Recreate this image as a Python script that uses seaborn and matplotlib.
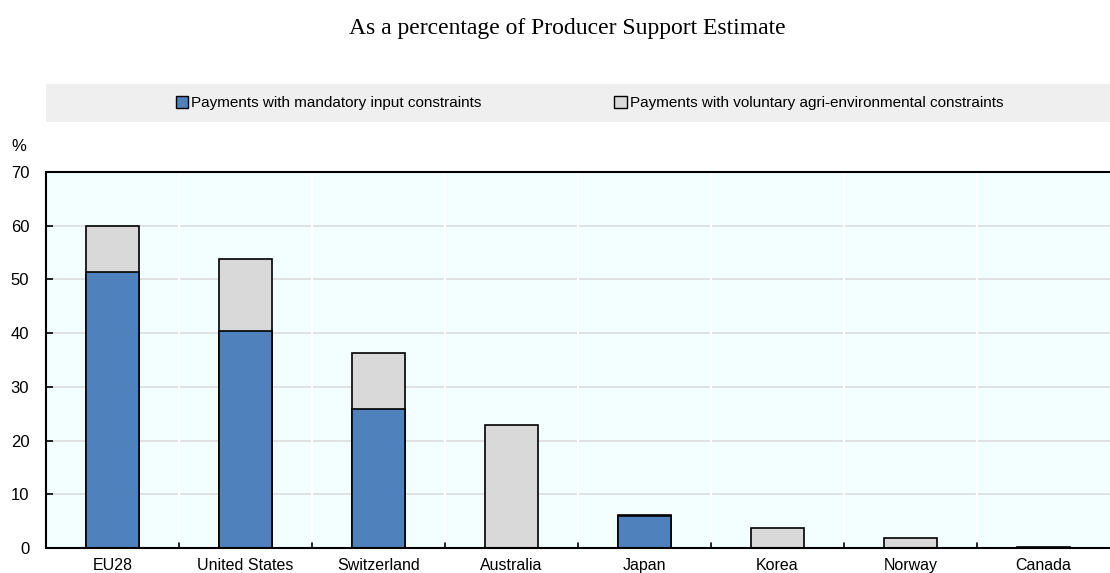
import numpy as np
import pandas as pd
import seaborn as sns
import matplotlib.pyplot as plt
from matplotlib.patches import Rectangle, Patch

countries = ['EU28', 'United States', 'Switzerland', 'Australia', 'Japan', 'Korea', 'Norway', 'Canada']
mandatory = [51.3, 40.4, 25.8, 0.0, 5.9, 0.0, 0.0, 0.0]
voluntary = [8.6, 13.4, 10.5, 22.9, 0.2, 3.8, 1.9, 0.1]

blue = '#4F81BD'
grey = '#D9D9D9'

df = pd.DataFrame({'country': countries, 'mandatory': mandatory, 'voluntary': voluntary})
df['total'] = df['mandatory'] + df['voluntary']

sns.set_style('white')
plt.rcParams['font.family'] = ['Liberation Sans', 'DejaVu Sans']
plt.rcParams['text.color'] = 'black'
plt.rcParams['xtick.color'] = 'black'
plt.rcParams['ytick.color'] = 'black'

fig = plt.figure(figsize=(11.1, 5.73), dpi=100)
ax = fig.add_axes([0.0414, 0.0436, 0.9586, 0.6562])
ax.set_facecolor('#F3FFFF')

# stacked: total in grey first, mandatory part in blue over it
sns.barplot(data=df, x='country', y='total', color=grey, width=0.4,
            edgecolor='black', linewidth=1.2, saturation=1, ax=ax)
sns.barplot(data=df, x='country', y='mandatory', color=blue, width=0.4,
            edgecolor='black', linewidth=1.2, saturation=1, ax=ax)

ax.set_ylim(0, 70)
ax.set_xlim(-0.5, len(countries) - 0.5)
ax.set_yticks(range(0, 71, 10))
ax.set_xlabel('')
ax.set_ylabel('')

# grid: light horizontal lines, white separators between categories
for y in range(10, 70, 10):
    ax.axhline(y, color='#DDDDDD', lw=1.2, zorder=0)
for xb in np.arange(0.5, len(countries) - 0.5, 1):
    ax.axvline(xb, color='white', lw=1.5, zorder=0)
    ax.plot([xb, xb], [0, 1.0], color='black', lw=1.2, zorder=3, clip_on=False)

for s in ['left', 'bottom', 'top']:
    ax.spines[s].set_visible(True)
    ax.spines[s].set_color('black')
    ax.spines[s].set_linewidth(1.5)
ax.spines['right'].set_visible(False)

ax.tick_params(axis='y', direction='in', length=5, width=1.2, labelsize=12, pad=12, left=True)
ax.tick_params(axis='x', length=0, labelsize=11.5, pad=7)

fig.text(0.0165, 0.745, '%', fontsize=12, ha='center', va='center')

fig.text(0.511, 0.951, 'As a percentage of Producer Support Estimate',
         fontsize=17, family=['Liberation Serif', 'DejaVu Serif'], ha='center', va='center')

# legend band
fig.patches.append(Rectangle((0.0414, 0.787), 0.9586, 0.066, transform=fig.transFigure,
                             facecolor='#EFEFEF', edgecolor='none', zorder=0))
handles = [Patch(facecolor=blue, edgecolor='black', label='Payments with mandatory input constraints'),
           Patch(facecolor=grey, edgecolor='black', label='Payments with voluntary agri-environmental constraints')]
fig.legend(handles=handles, loc='center', bbox_to_anchor=(0.531, 0.82), ncol=2, frameon=False,
           fontsize=11, handlelength=0.8, handleheight=0.8, handletextpad=0.2, columnspacing=8.7)

fig.savefig('out.png', dpi=100)
